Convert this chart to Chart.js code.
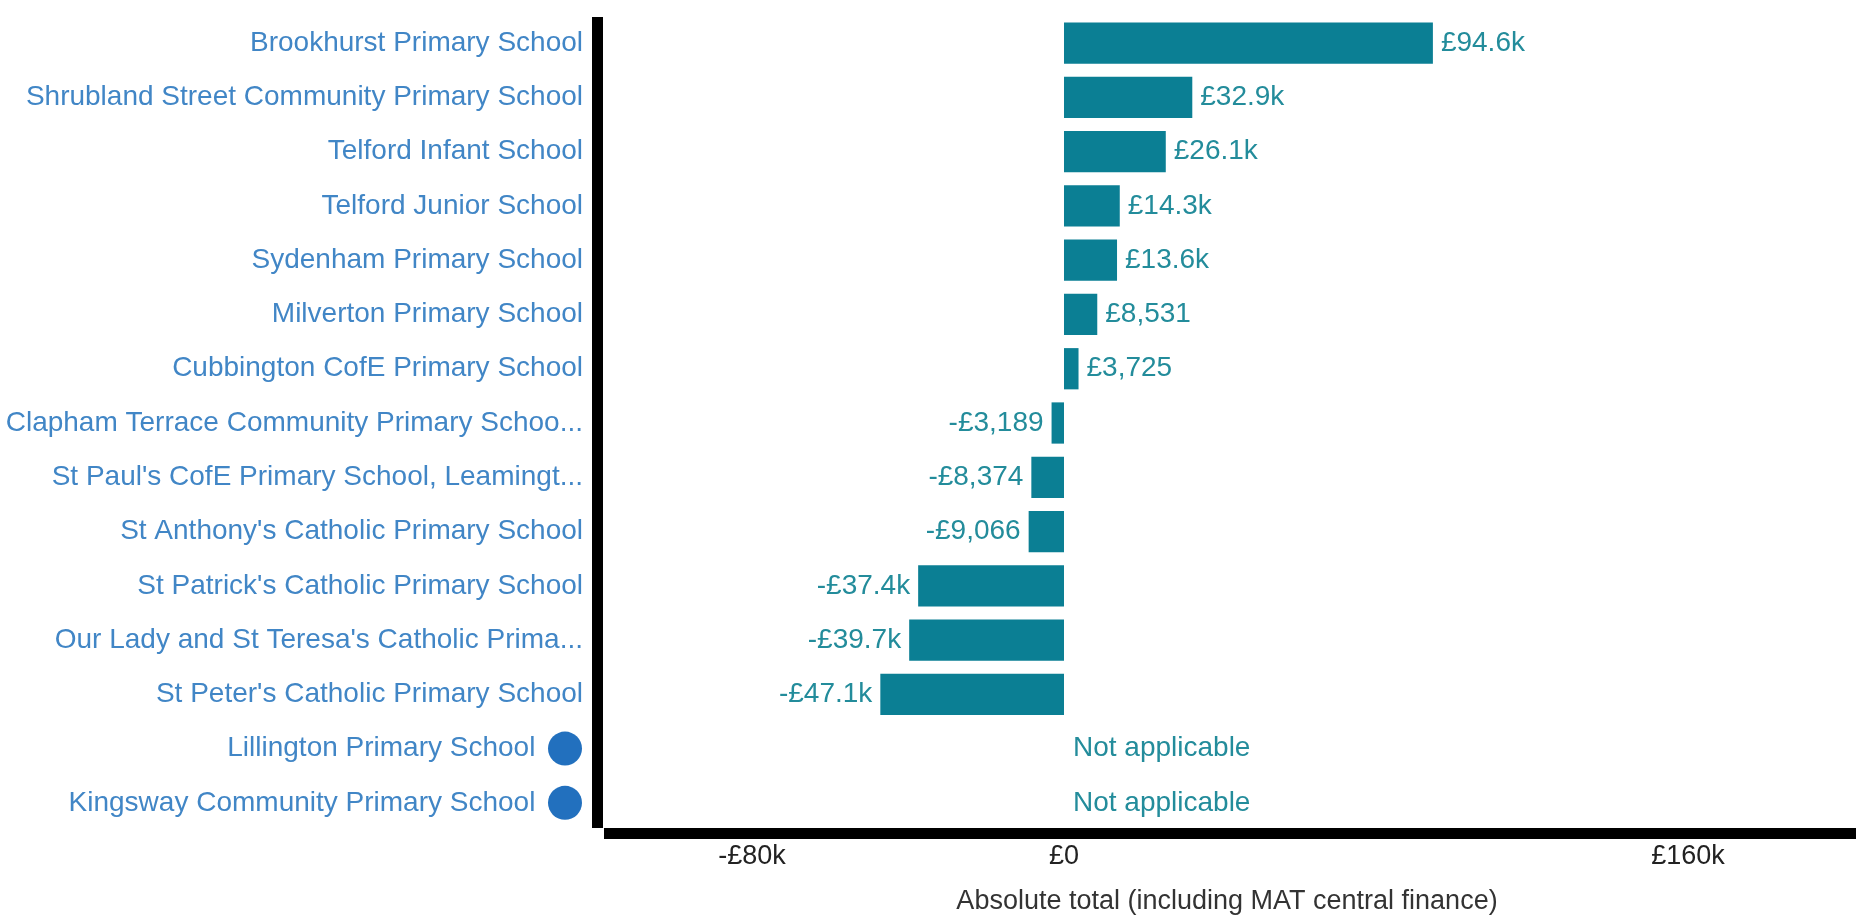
<!DOCTYPE html>
<html lang="en">
<head>
<meta charset="UTF-8">
<title>Absolute total by school</title>
<script src="https://cdn.jsdelivr.net/npm/chart.js@4.4.1/dist/chart.umd.min.js"></script>
<style>
  body, html {
    margin: 0;
    padding: 0;
    background-color: #fff;
    overflow: hidden;
  }
  canvas { display: block; }
</style>
</head>
<body>
<canvas id="balance-chart" width="1856" height="918"></canvas>
<script>
// data
const schools = [
  'Brookhurst Primary School',
  'Shrubland Street Community Primary School',
  'Telford Infant School',
  'Telford Junior School',
  'Sydenham Primary School',
  'Milverton Primary School',
  'Cubbington CofE Primary School',
  'Clapham Terrace Community Primary Schoo...',
  "St Paul's CofE Primary School, Leamingt...",
  "St Anthony's Catholic Primary School",
  "St Patrick's Catholic Primary School",
  "Our Lady and St Teresa's Catholic Prima...",
  "St Peter's Catholic Primary School",
  'Lillington Primary School',
  'Kingsway Community Primary School'
];
const totals = [94600, 32900, 26100, 14300, 13600, 8531, 3725, -3189, -8374, -9066, -37400, -39700, -47100, null, null];
const xTicks = [-80000, 0, 160000];
const noDataText = 'Not applicable';
const axisTitle = 'Absolute total (including MAT central finance)';

const FONT = '"Liberation Sans", Arial, sans-serif';
const barColor = '#0b7f94';
const valueColor = '#238c9b';
const nameColor = '#4186c6';
const iconColor = '#2270be';

function money(v) {
  const sign = v < 0 ? '-' : '';
  const a = Math.abs(v);
  if (a >= 10000) return sign + '£' + (a / 1000).toFixed(1) + 'k';
  return sign + '£' + a.toLocaleString('en-GB');
}

function tickMoney(v) {
  if (v === 0) return '£0';
  return (v < 0 ? '-' : '') + '£' + Math.abs(v) / 1000 + 'k';
}

const valueLabels = {
  id: 'valueLabels',
  afterDatasetsDraw(chart) {
    const ctx = chart.ctx;
    const xs = chart.scales.x, ys = chart.scales.y;
    const meta = chart.getDatasetMeta(0);
    const zero = xs.getPixelForValue(0);
    ctx.save();
    ctx.font = '28px ' + FONT;
    ctx.fillStyle = valueColor;
    ctx.textBaseline = 'middle';
    totals.forEach((v, i) => {
      const cy = ys.getPixelForValue(i);
      if (v === null) {
        ctx.textAlign = 'left';
        ctx.fillText(noDataText, zero + 9, cy);
      } else if (v >= 0) {
        ctx.textAlign = 'left';
        ctx.fillText(money(v), meta.data[i].x + 8, cy);
      } else {
        ctx.textAlign = 'right';
        ctx.fillText(money(v), meta.data[i].x - 8, cy);
      }
    });
    ctx.restore();
  }
};

const axisDecor = {
  id: 'axisDecor',
  afterDraw(chart) {
    const ctx = chart.ctx;
    const a = chart.chartArea;
    const ys = chart.scales.y;
    ctx.save();
    // thick black axis lines
    ctx.fillStyle = '#000';
    ctx.fillRect(a.left - 6, a.top + 1, 11, a.bottom - a.top - 3);
    ctx.fillRect(a.left + 6, a.bottom - 2, a.right - a.left - 6, 11);
    // blue dots next to schools without data
    ctx.fillStyle = iconColor;
    totals.forEach((v, i) => {
      if (v !== null) return;
      ctx.beginPath();
      ctx.arc(ys.right - 33, ys.getPixelForValue(i), 17, 0, Math.PI * 2);
      ctx.fill();
    });
    ctx.restore();
  }
};

new Chart(document.getElementById('balance-chart'), {
  type: 'bar',
  data: {
    labels: schools,
    datasets: [{
      data: totals,
      backgroundColor: barColor,
      borderWidth: 0,
      barPercentage: 0.76,
      categoryPercentage: 1
    }]
  },
  options: {
    indexAxis: 'y',
    responsive: false,
    devicePixelRatio: 1,
    animation: false,
    layout: { padding: 0 },
    plugins: {
      legend: { display: false },
      tooltip: { enabled: false }
    },
    scales: {
      x: {
        min: -119500,
        max: 203100,
        afterBuildTicks: s => { s.ticks = xTicks.map(v => ({ value: v })); },
        afterFit: s => { s.height = 88; },
        grid: { display: false, drawTicks: false },
        border: { display: false },
        ticks: {
          color: '#222',
          font: { family: FONT, size: 27 },
          padding: 10,
          maxRotation: 0,
          callback: v => tickMoney(v)
        },
        title: {
          display: true,
          text: axisTitle,
          color: '#333',
          font: { family: FONT, size: 27 },
          padding: { top: 4, bottom: 0 }
        }
      },
      y: {
        afterFit: s => { s.width = 598; s.paddingTop = 16; s.paddingBottom = 0; },
        grid: { display: false, drawTicks: false },
        border: { display: false },
        ticks: {
          color: nameColor,
          font: { family: FONT, size: 28 },
          padding: 15,
          autoSkip: false,
          callback: (v, i) => totals[i] === null ? schools[i] + '\u2003\u2002\u2009' : schools[i]
        }
      }
    }
  },
  plugins: [valueLabels, axisDecor]
});
</script>
</body>
</html>
